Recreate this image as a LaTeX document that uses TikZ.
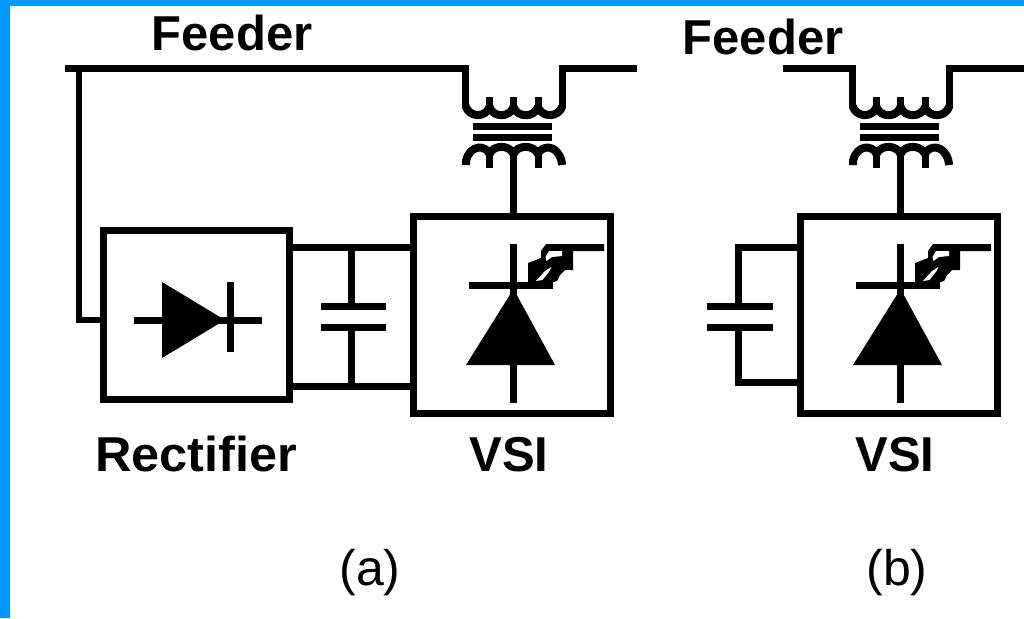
\documentclass[tikz,border=0pt]{standalone}
\usepackage{fontspec}
\usepackage{graphicx}
\setmainfont{Liberation Sans}
\definecolor{edgeblue}{HTML}{0099FF}
\tikzset{
  x=1pt,y=-1pt,
  wire/.style={draw=black,line width=7pt,line cap=butt,line join=miter},
  thin wire/.style={draw=black,line width=6pt,line cap=butt,line join=miter},
  coil/.style={draw=black,line width=8pt,line cap=butt,line join=round},
  blockbox/.style={draw=black,line width=7pt,fill=white,rectangle,inner sep=0pt,outer sep=0pt},
  boldlabel/.style={inner sep=0pt,outer sep=0pt,anchor=base,font=\bfseries\fontsize{49}{49}\selectfont},
  feederlabel/.style={inner sep=0pt,outer sep=0pt,anchor=base,font=\bfseries\fontsize{49}{49}\selectfont},
  caplabel/.style={inner sep=0pt,outer sep=0pt,anchor=base,font=\fontsize{50}{50}\selectfont},
  xfmr/.pic={
    \coordinate (-in) at (-48,68.5);
    \coordinate (-out) at (49,68.5);
    \coordinate (-dropl) at (-48,108);
    \coordinate (-dropr) at (49,108);
    \coordinate (-sec) at (0,150);
    \draw[coil] (-48,106)
      .. controls (-44,118) and (-28,118) .. (-24,107)
      .. controls (-20,118) and (-4,118) .. (0,107)
      .. controls (4,118) and (20.5,118) .. (24.5,107)
      .. controls (28.5,118) and (45,118) .. (49,106);
    \draw[wire] (-24,97) -- (-24,110);
    \draw[wire] (0,97) -- (0,110);
    \draw[wire] (24.5,97) -- (24.5,110);
    \draw[wire] (-40.5,126.5) -- (38.5,126.5);
    \draw[wire] (-40.5,137.5) -- (38.5,137.5);
    \draw[coil] (-47.5,165) -- (-47.5,161)
      .. controls (-44,144.5) and (-28,144.5) .. (-24,154)
      .. controls (-20,144.5) and (-4,144.5) .. (0,154)
      .. controls (4,144.5) and (20.5,144.5) .. (24.5,154)
      .. controls (28.5,144.5) and (44,144.5) .. (48,161) -- (48.5,165);
    \draw[wire] (-24,152) -- (-24,168);
    \draw[wire] (24.5,152) -- (24.5,168);
  },
  thyristor/.pic={
    \draw[wire] (0,244) -- (0,403);
    \draw[wire] (-44.5,285.5) -- (39,285.5);
    \fill[black] (0,289) -- (41.5,365) -- (-47.5,365) -- cycle;
    \fill[black] (32.5,244) -- (27.5,251) -- (27.5,258) -- (14.5,263) -- (14.5,282) -- (40,282)
      -- (43.5,281) -- (46.5,275) -- (51.5,270) -- (59.5,270) -- (59.5,251) -- (90.5,251) -- (90.5,244) -- cycle;
    \fill[white] (35.5,251) -- (48.5,251) -- (48.5,256) -- (38.5,257) -- (33,261) -- (32,257) -- cycle;
    \fill[white] (22.5,281) -- (31.5,271) -- (38,267) -- (36,271) -- (29,280) -- cycle;
  }
}
\begin{document}
\begin{tikzpicture}
\useasboundingbox (0,0) rectangle (1024,618);
\fill[white] (0,0) rectangle (1024,618);
\fill[edgeblue] (0,0) rectangle (1024,6);
\fill[edgeblue] (0,0) rectangle (10,618);

% (a)
\pic (ta) at (513.5,0) {xfmr};
\node[blockbox,minimum width=186pt,minimum height=169.5pt] (rect) at (196.5,314.75) {};
\node[blockbox,minimum width=197pt,minimum height=197pt] (vsia) at (512,315) {};
\pic at (513.5,0) {thyristor};

\coordinate (feedstart) at (65,68.5);
\coordinate (tapa) at (79,65);
\coordinate (recin) at (79,320);
\coordinate (feedenda) at (637,68.5);
\coordinate (capatop) at (351.5,247.5);
\coordinate (capabot) at (351.5,386.5);
\coordinate (plateat) at (351.5,306.5);
\coordinate (plateab) at (351.5,327.5);

\draw[wire] (feedstart) -- (ta-in) -- (ta-dropl);
\draw[wire] (feedenda) -- (ta-out) -- (ta-dropr);
\draw[thin wire] (tapa) -- (recin) -- (recin -| rect.west);
\draw[wire] (ta-sec) -- (ta-sec |- vsia.north);
\draw[wire] (rect.east |- capatop) -- (vsia.west |- capatop);
\draw[wire] (rect.east |- capabot) -- (vsia.west |- capabot);
\draw[wire] (capatop) -- (plateat);
\draw[wire] (plateab) -- (capabot);
\draw[wire] ([xshift=-30.5pt]plateat) -- ([xshift=34.5pt]plateat);
\draw[wire] ([xshift=-30.5pt]plateab) -- ([xshift=34.5pt]plateab);

% diode in the rectifier
\coordinate (dl) at (134,320);
\coordinate (dr) at (262,320);
\draw[wire] (dl) -- (dr);
\fill[black] (162,282) -- (225,320) -- (162,358) -- cycle;
\draw[wire] (230.5,282) -- (230.5,352);

% (b)
\pic (tb) at (900.5,0) {xfmr};
\node[blockbox,minimum width=197pt,minimum height=197pt] (vsib) at (899,315) {};
\pic at (900.5,0) {thyristor};

\coordinate (feedstartb) at (783,68.5);
\coordinate (feedendb) at (1024,68.5);
\coordinate (capbtop) at (738.5,247.5);
\coordinate (capbbot) at (738.5,382.5);
\coordinate (platebt) at (738.5,306.5);
\coordinate (platebb) at (738.5,327.5);

\draw[wire] (feedstartb) -- (tb-in) -- (tb-dropl);
\draw[wire] (feedendb) -- (tb-out) -- (tb-dropr);
\draw[wire] (tb-sec) -- (tb-sec |- vsib.north);
\draw[wire] (vsib.west |- capbtop) -- (capbtop) -- (platebt);
\draw[wire] (platebb) -- (capbbot) -- (vsib.west |- capbbot);
\draw[wire] ([xshift=-31.5pt]platebt) -- ([xshift=34.5pt]platebt);
\draw[wire] ([xshift=-31.5pt]platebb) -- ([xshift=34.5pt]platebb);

% labels
\node[feederlabel] (fa) at (232,50) {Feeder};
\node[feederlabel] (fb) at (763,55) {Feeder};
\node[boldlabel] (rl) at (196,471) {\scalebox{1.03}[1]{Rectifier}};
\node[boldlabel] (va) at (509,471) {VSI};
\node[boldlabel] (vb) at (895,471) {VSI};
\node[caplabel] (la) at (370,585) {(a)};
\node[caplabel] (lb) at (897,585) {(b)};
\end{tikzpicture}
\end{document}
